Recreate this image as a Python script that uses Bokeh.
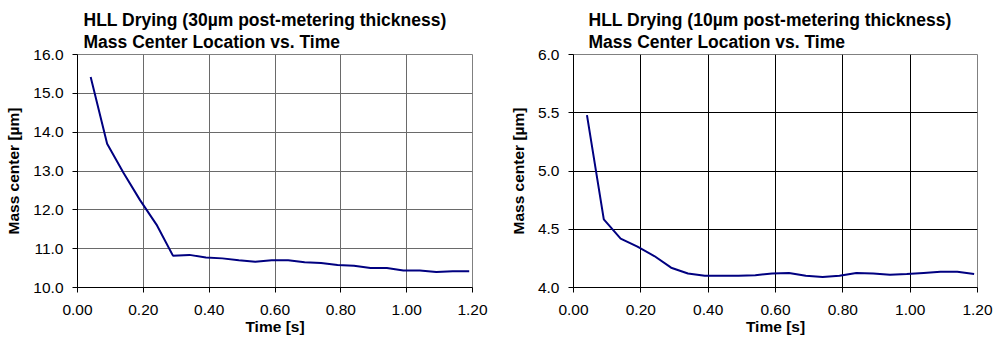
from bokeh.plotting import figure
from bokeh.models import Range1d, Title, FixedTicker, NumeralTickFormatter
from bokeh.layouts import row
from bokeh.embed import file_html
from bokeh.resources import INLINE

time_s = [0.04, 0.09, 0.14, 0.19, 0.24, 0.29, 0.34, 0.39, 0.44, 0.49, 0.54, 0.59,
          0.64, 0.69, 0.74, 0.79, 0.84, 0.89, 0.94, 0.99, 1.04, 1.09, 1.14, 1.19]
mass_30 = [15.42, 13.70, 12.95, 12.25, 11.62, 10.82, 10.84, 10.77, 10.75, 10.70, 10.66, 10.70,
           10.70, 10.65, 10.63, 10.58, 10.56, 10.50, 10.50, 10.44, 10.44, 10.40, 10.42, 10.42]
mass_10 = [5.48, 4.585, 4.42, 4.35, 4.27, 4.17, 4.12, 4.10, 4.10, 4.10, 4.105, 4.12,
           4.125, 4.10, 4.09, 4.10, 4.125, 4.12, 4.11, 4.115, 4.125, 4.135, 4.135, 4.115]

x_ticks = [0.0, 0.2, 0.4, 0.6, 0.8, 1.0, 1.2]
y_ticks_30 = [10, 11, 12, 13, 14, 15, 16]
y_ticks_10 = [4.0, 4.5, 5.0, 5.5, 6.0]

title1_30 = "HLL Drying (30µm post-metering thickness)"
title1_10 = "HLL Drying (10µm post-metering thickness)"
title2 = "Mass Center Location vs. Time"
x_label = "Time [s]"
y_label = "Mass center [µm]"

FONT = "Liberation Sans"


def make(ys, yr, yticks, t1, grid_col, bl, fw, br, toff):
    p = figure(frame_width=fw, frame_height=233, output_backend="svg",
               toolbar_location=None, x_range=Range1d(0, 1.2), y_range=Range1d(*yr),
               min_border_left=bl, min_border_right=br, min_border_top=54,
               min_border_bottom=50, title=None)
    p.add_layout(Title(text=t1 + "\n" + title2, text_font=FONT, text_font_size="17.5px",
                       text_font_style="bold", text_color="black", align="left",
                       offset=toff, standoff=5, text_line_height=1.1), "above")
    p.line(time_s, ys, line_color="#000080", line_width=2)
    p.background_fill_color = "white"
    p.border_fill_color = "white"
    p.outline_line_color = "#808080"
    p.outline_line_width = 1
    for ax in (p.xaxis[0], p.yaxis[0]):
        ax.axis_line_color = "black"
        ax.major_tick_line_color = "black"
        ax.major_tick_out = 5
        ax.major_tick_in = 0
        ax.minor_tick_line_color = None
        ax.major_label_text_font = FONT
        ax.major_label_text_font_size = "15.5px"
        ax.major_label_text_color = "black"
        ax.axis_label_text_font = FONT
        ax.axis_label_text_font_size = "15.5px"
        ax.axis_label_text_font_style = "bold"
        ax.axis_label_text_color = "black"
    p.xaxis.ticker = FixedTicker(ticks=x_ticks)
    p.xaxis.formatter = NumeralTickFormatter(format="0.00")
    p.yaxis.ticker = FixedTicker(ticks=yticks)
    p.yaxis.formatter = NumeralTickFormatter(format="0.0")
    p.xaxis.axis_label = x_label
    p.yaxis.axis_label = y_label
    p.xaxis.major_label_standoff = 12
    p.xaxis.axis_label_standoff = 0
    p.yaxis.major_label_standoff = 9
    p.yaxis.axis_label_standoff = 8
    p.xgrid.ticker = FixedTicker(ticks=x_ticks)
    p.ygrid.ticker = FixedTicker(ticks=yticks)
    p.xgrid.grid_line_color = grid_col
    p.ygrid.grid_line_color = grid_col
    return p


p1 = make(mass_30, (10, 16), y_ticks_30, title1_30, "#6a6a6a", 77, 395, 25, 6)
p2 = make(mass_10, (4.0, 6.0), y_ticks_10, title1_10, "#000000", 76, 404, 17, 15)

layout = row(p1, p2, spacing=0)
open("out.html", "w").write(file_html(layout, INLINE))
